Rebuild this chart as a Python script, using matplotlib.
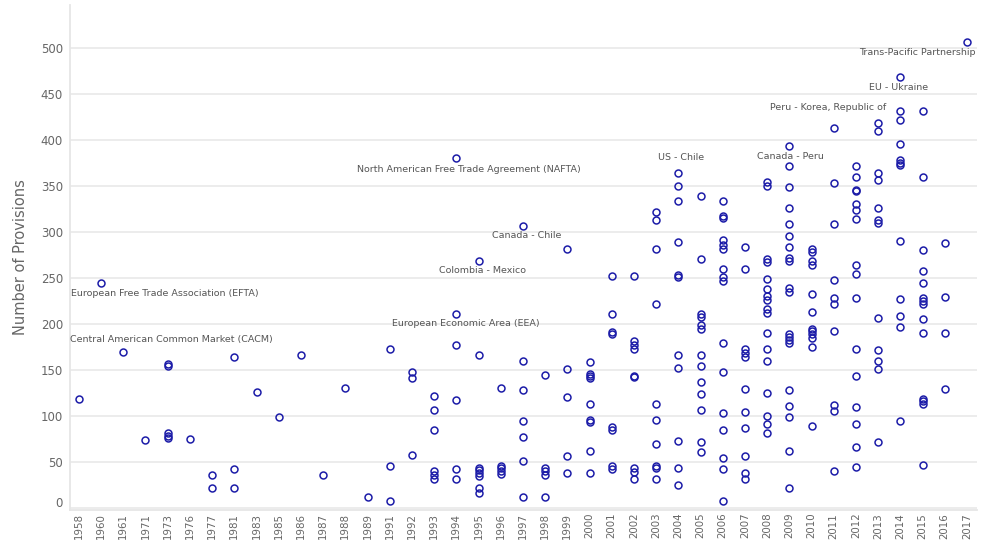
import matplotlib.pyplot as plt
from matplotlib.transforms import ScaledTranslation

# Year categories on the x axis
years = ["1958", "1960", "1961", "1971", "1973", "1976", "1977", "1981", "1983",
         "1985", "1986", "1987", "1988", "1989", "1991", "1992", "1993", "1994",
         "1995", "1996", "1997", "1998", "1999", "2000", "2001", "2002", "2003",
         "2004", "2005", "2006", "2007", "2008", "2009", "2010", "2011", "2012",
         "2013", "2014", "2015", "2016", "2017"]

# Number of provisions of each agreement, grouped by year
provisions = [
    [118],
    [245],
    [170],
    [74],
    [157, 154, 81, 78, 76],
    [75],
    [36, 22],
    [164, 42, 22],
    [126],
    [99],
    [166],
    [36],
    [130],
    [12],
    [173, 46, 8],
    [148, 141, 58],
    [122, 106, 85, 40, 36, 32],
    [380, 211, 177, 117, 42, 32],
    [269, 166, 44, 41, 38, 35, 22, 16],
    [130, 46, 43, 40, 37],
    [307, 160, 128, 95, 77, 51, 12],
    [145, 44, 40, 36, 12],
    [281, 151, 121, 57, 38],
    [159, 146, 144, 141, 113, 96, 93, 62, 38],
    [252, 211, 191, 189, 88, 85, 46, 42],
    [252, 181, 177, 173, 143, 142, 43, 39, 32],
    [322, 313, 282, 222, 113, 96, 70, 46, 44, 32],
    [364, 350, 334, 289, 253, 251, 166, 152, 73, 44, 25],
    [339, 271, 211, 208, 199, 195, 166, 154, 137, 124, 106, 72, 61],
    [334, 317, 315, 291, 286, 281, 260, 251, 247, 179, 148, 103, 85, 54, 42, 8],
    [284, 260, 173, 169, 164, 129, 104, 87, 57, 38, 32],
    [354, 350, 271, 267, 249, 238, 230, 226, 216, 212, 190, 173, 160, 125, 100, 91, 82],
    [394, 372, 349, 326, 309, 296, 284, 272, 268, 239, 235, 189, 186, 183, 179, 128, 111, 99, 62, 22],
    [281, 278, 268, 264, 233, 213, 195, 192, 189, 185, 175, 89],
    [413, 353, 309, 248, 228, 222, 192, 112, 105, 40],
    [372, 360, 346, 345, 330, 324, 314, 264, 254, 228, 173, 143, 110, 91, 66, 45],
    [418, 410, 364, 357, 326, 313, 310, 206, 172, 160, 151, 72],
    [468, 432, 422, 396, 378, 375, 373, 290, 227, 209, 197, 95],
    [432, 360, 280, 258, 245, 228, 225, 222, 205, 190, 118, 116, 113, 47],
    [288, 229, 190, 129],
    [507],
]

# Named agreements
label_names = ["European Free Trade Association (EFTA)",
               "Central American Common Market (CACM)",
               "North American Free Trade Agreement (NAFTA)",
               "European Economic Area (EEA)",
               "Colombia - Mexico",
               "Canada - Chile",
               "US - Chile",
               "Canada - Peru",
               "Peru - Korea, Republic of",
               "EU - Ukraine",
               "Trans-Pacific Partnership"]
label_years = ["1960", "1961", "1994", "1994", "1995", "1997", "2004", "2009",
               "2011", "2014", "2017"]
label_values = [245, 170, 380, 211, 269, 307, 364, 394, 413, 468, 507]

# label placement: horizontal anchor and offsets (points)
label_align = ["left", "left", "center", "center", "center", "center", "center",
               "center", "center", "center", "right"]
label_dx = [1, 0, 9, 7, 3, 3, 2, 1, -4, -1, -1]
label_dy = [-8, 9, -8, -7, -7, -7, 11, -8, 15, -7, -8]

blue = "#1c1ca8"
grey = "#666666"

fig = plt.figure(figsize=(9.81, 5.41), dpi=100)
ax = fig.add_axes([70 / 981, 1 - 510 / 541, 907 / 981, 505 / 541])

for i, vals in enumerate(provisions):
    ax.plot([i] * len(vals), vals, linestyle="none", marker="o", ms=5,
            mfc="none", mec=blue, mew=1.1, zorder=3)

for name, yr, val, al, dx, dy in zip(label_names, label_years, label_values,
                                     label_align, label_dx, label_dy):
    if al == "left":
        xy, coords = (0, val), ("axes fraction", "data")
    elif al == "right":
        xy, coords = (1, val), ("axes fraction", "data")
    else:
        xy, coords = (years.index(yr), val), "data"
    ax.annotate(name, xy=xy, xycoords=coords, xytext=(dx, dy),
                textcoords="offset points", ha=al, va="center",
                fontsize=6.8, color="#555555", family="DejaVu Sans")

ax.set_xlim(-0.4, len(years) - 0.55)
ax.set_ylim(-2.2, 546.8)
ax.set_xticks(range(len(years)))
ax.set_xticklabels(years, rotation=90)
ax.set_yticks(range(0, 501, 50))

ax.grid(axis="y", color="#ebebeb", lw=1.3)
ax.set_axisbelow(True)
for s in ["top", "right"]:
    ax.spines[s].set_visible(False)
for s in ["left", "bottom"]:
    ax.spines[s].set_color("#e6e6e6")
    ax.spines[s].set_linewidth(1.3)
ax.tick_params(axis="both", length=0, colors=grey)
ax.tick_params(axis="y", pad=5, labelsize=8.5)
ax.tick_params(axis="x", pad=2, labelsize=7.4)

# "0" label sits a little above the baseline
zero = ax.get_yticklabels()[0]
zero.set_transform(zero.get_transform() + ScaledTranslation(0, 6 / 100, fig.dpi_scale_trans))

ax.set_ylabel("Number of Provisions", fontsize=10.5, color=grey, labelpad=9)

fig.savefig("out.png", dpi=100)
